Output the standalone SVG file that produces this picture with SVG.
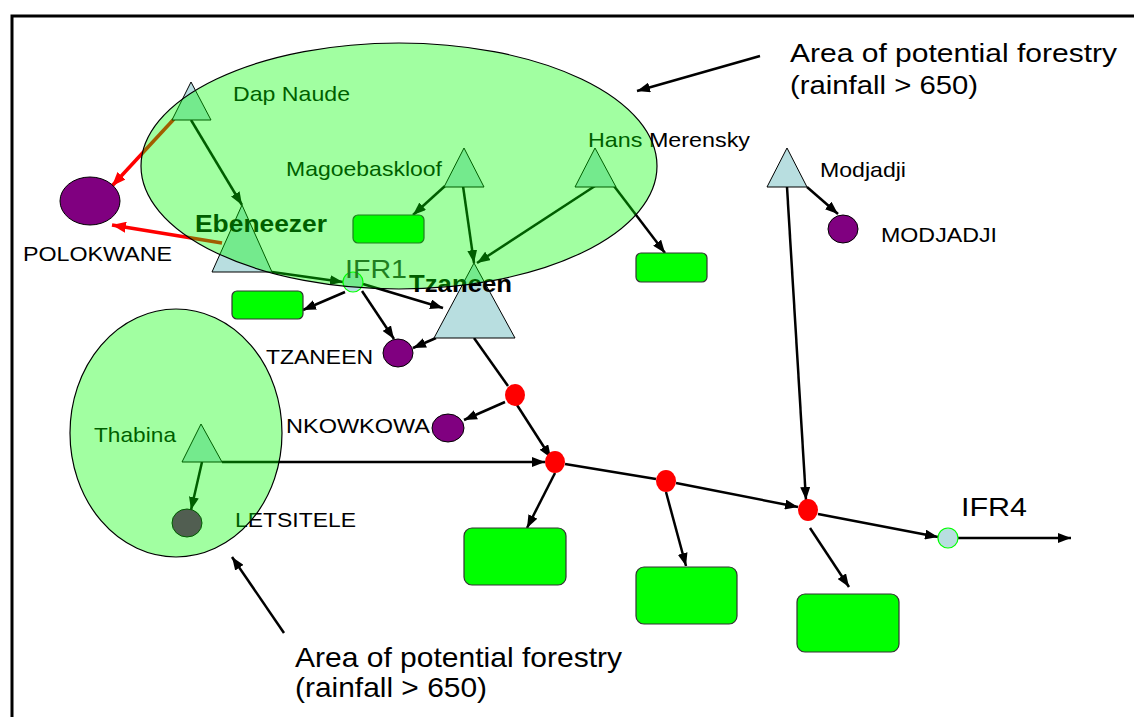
<svg xmlns="http://www.w3.org/2000/svg" width="1134" height="717" viewBox="0 0 1134 717">
  <style>
    .lbl { font-family: "Liberation Sans", Arial, sans-serif; font-size: 21px; fill: #000; }
    .big { font-family: "Liberation Sans", Arial, sans-serif; font-size: 26px; fill: #000; }
    .bold { font-weight: bold; font-size: 24px; }
    .dam { fill: #B8DEE0; stroke: #000; stroke-width: 1; }
    .town { fill: #800080; stroke: #000; stroke-width: 1; }
    .user { fill: #00FF00; stroke: #333; stroke-width: 1.2; }
    .junc { fill: #FF0000; stroke: none; }
    .ifr { fill: #B8DEE0; stroke: #00FF00; stroke-width: 1.2; }
    .flow { stroke: #000; stroke-width: 2.5; fill: none; }
    .flow-a { stroke: #000; stroke-width: 2.5; fill: none; marker-end: url(#ah); }
    .transfer { stroke: #FF0000; stroke-width: 3.5; fill: none; marker-end: url(#ahr); }
    .area { fill: #00FF00; fill-opacity: 0.37; stroke: #000; stroke-width: 1.2; }
  </style>
  <defs>
    <marker id="ah" markerUnits="userSpaceOnUse" markerWidth="13" markerHeight="10" refX="13" refY="5" orient="auto">
      <path d="M0,0 L13,5 L0,10 z" fill="#000"/>
    </marker>
    <marker id="ahr" markerUnits="userSpaceOnUse" markerWidth="14" markerHeight="11" refX="14" refY="5.5" orient="auto">
      <path d="M0,0 L14,5.5 L0,11 z" fill="#FF0000"/>
    </marker>
  </defs>

  <rect x="0" y="0" width="1134" height="717" fill="#fff"/>
  <!-- frame -->
  <path d="M12,717 L12,16 L1134,16" fill="none" stroke="#000" stroke-width="3"/>

  <!-- connectors -->
  <g id="connectors">
    <line class="transfer" x1="174" y1="119" x2="112" y2="186"/>
    <line class="transfer" x1="222" y1="243" x2="112" y2="225"/>
    <line class="flow-a" x1="191" y1="120" x2="242" y2="205"/>
    <line class="flow-a" x1="272" y1="272" x2="343" y2="282"/>
    <line class="flow-a" x1="345" y1="292" x2="303" y2="310"/>
    <line class="flow-a" x1="362" y1="291" x2="394" y2="339"/>
    <line class="flow-a" x1="363" y1="284" x2="443" y2="308"/>
    <line class="flow-a" x1="445" y1="186" x2="413" y2="215"/>
    <line class="flow-a" x1="463" y1="186" x2="474" y2="263"/>
    <line class="flow-a" x1="595" y1="186" x2="477" y2="263"/>
    <line class="flow-a" x1="614" y1="186" x2="665" y2="253"/>
    <line class="flow-a" x1="436" y1="338" x2="413" y2="348"/>
    <line class="flow" x1="474" y1="338" x2="508" y2="386"/>
    <line class="flow-a" x1="505" y1="402" x2="464" y2="420"/>
    <line class="flow-a" x1="517" y1="405" x2="551" y2="458"/>
    <line class="flow-a" x1="222" y1="462" x2="545" y2="462"/>
    <line class="flow-a" x1="202" y1="462" x2="191" y2="510"/>
    <line class="flow-a" x1="555" y1="473" x2="527" y2="528"/>
    <line class="flow" x1="565" y1="464" x2="656" y2="479"/>
    <line class="flow-a" x1="676" y1="483" x2="798" y2="507"/>
    <line class="flow-a" x1="666" y1="492" x2="686" y2="566"/>
    <line class="flow-a" x1="787" y1="187" x2="806" y2="500"/>
    <line class="flow-a" x1="807" y1="187" x2="838" y2="214"/>
    <line class="flow-a" x1="810" y1="528" x2="849" y2="587"/>
    <line class="flow-a" x1="818" y1="514" x2="938" y2="537"/>
    <line class="flow-a" x1="958" y1="538" x2="1071" y2="538"/>
    <line class="flow-a" x1="760" y1="56" x2="637" y2="91"/>
    <line class="flow-a" x1="284" y1="633" x2="232" y2="557"/>
  </g>

  <!-- dams -->
  <g id="dap-naude">
    <polygon class="dam" points="191,82 172,120 211,120"/>
    <text class="lbl" x="233" y="101" textLength="117" lengthAdjust="spacingAndGlyphs">Dap Naude</text>
  </g>
  <g id="ebeneezer">
    <polygon class="dam" points="242,205 212,272 272,272"/>
    <text class="lbl bold" x="195" y="232" textLength="132" lengthAdjust="spacingAndGlyphs">Ebeneezer</text>
  </g>
  <g id="magoebaskloof">
    <polygon class="dam" points="464,148 444,187 484,187"/>
    <text class="lbl" x="286" y="176" textLength="156" lengthAdjust="spacingAndGlyphs">Magoebaskloof</text>
  </g>
  <g id="hans-merensky">
    <polygon class="dam" points="595,148 575,187 616,187"/>
    <text class="lbl" x="588" y="147" textLength="162" lengthAdjust="spacingAndGlyphs">Hans Merensky</text>
  </g>
  <g id="tzaneen-dam">
    <polygon class="dam" points="474,263 434,338 515,338"/>
    <text class="lbl bold" x="409" y="292" textLength="103" lengthAdjust="spacingAndGlyphs">Tzaneen</text>
  </g>
  <g id="modjadji-dam">
    <polygon class="dam" points="787,148 767,187 807,187"/>
    <text class="lbl" x="820" y="177" textLength="86" lengthAdjust="spacingAndGlyphs">Modjadji</text>
  </g>
  <g id="thabina">
    <polygon class="dam" points="201,424 182,462 222,462"/>
    <text class="lbl" x="94" y="442" textLength="82" lengthAdjust="spacingAndGlyphs">Thabina</text>
  </g>

  <!-- towns -->
  <g id="polokwane">
    <ellipse class="town" cx="90" cy="201" rx="30" ry="24"/>
    <text class="lbl" x="23" y="261" textLength="149" lengthAdjust="spacingAndGlyphs">POLOKWANE</text>
  </g>
  <g id="modjadji-town">
    <ellipse class="town" cx="843" cy="229" rx="15" ry="14"/>
    <text class="lbl" x="881" y="242" textLength="116" lengthAdjust="spacingAndGlyphs">MODJADJI</text>
  </g>
  <g id="tzaneen-town">
    <ellipse class="town" cx="398" cy="353" rx="15" ry="14"/>
    <text class="lbl" x="266" y="364" textLength="107" lengthAdjust="spacingAndGlyphs">TZANEEN</text>
  </g>
  <g id="nkowkowa">
    <ellipse class="town" cx="448" cy="428" rx="16" ry="14"/>
    <text class="lbl" x="286" y="433" textLength="144" lengthAdjust="spacingAndGlyphs">NKOWKOWA</text>
  </g>
  <g id="letsitele">
    <ellipse class="town" cx="187" cy="523" rx="15" ry="14"/>
    <text class="lbl" x="235" y="527" textLength="121" lengthAdjust="spacingAndGlyphs">LETSITELE</text>
  </g>

  <!-- water users -->
  <g id="user-1"><rect class="user" x="353" y="215" width="71" height="28" rx="5"/></g>
  <g id="user-2"><rect class="user" x="232" y="291" width="71" height="28" rx="5"/></g>
  <g id="user-3"><rect class="user" x="636" y="253" width="71" height="29" rx="5"/></g>
  <g id="user-4"><rect class="user" x="464" y="528" width="102" height="57" rx="8"/></g>
  <g id="user-5"><rect class="user" x="636" y="567" width="101" height="57" rx="8"/></g>
  <g id="user-6"><rect class="user" x="797" y="594" width="102" height="58" rx="8"/></g>

  <!-- river junctions -->
  <g id="junction-1"><ellipse class="junc" cx="515" cy="395" rx="10" ry="11"/></g>
  <g id="junction-2"><ellipse class="junc" cx="555" cy="462" rx="10" ry="11"/></g>
  <g id="junction-3"><ellipse class="junc" cx="666" cy="481" rx="10" ry="11"/></g>
  <g id="junction-4"><ellipse class="junc" cx="808" cy="510" rx="10" ry="11"/></g>

  <!-- IFR sites -->
  <g id="ifr1">
    <ellipse class="ifr" cx="353" cy="282" rx="10" ry="10"/>
    <text class="lbl" x="345" y="278" style="font-size:25px;fill:#333" textLength="62" lengthAdjust="spacingAndGlyphs">IFR1</text>
  </g>
  <g id="ifr4">
    <ellipse class="ifr" cx="948" cy="538" rx="10" ry="10"/>
    <text class="lbl" x="961" y="516" style="font-size:25px" textLength="66" lengthAdjust="spacingAndGlyphs">IFR4</text>
  </g>

  <!-- forestry areas (translucent overlay) -->
  <g id="forestry-north">
    <ellipse class="area" cx="399" cy="166" rx="258" ry="123"/>
  </g>
  <g id="forestry-south">
    <ellipse class="area" cx="176" cy="433" rx="106" ry="124"/>
  </g>

  <!-- area notes -->
  <g id="note-north">
    <text class="big" x="790" y="62" textLength="327" lengthAdjust="spacingAndGlyphs">Area of potential forestry</text>
    <text class="big" x="790" y="94" textLength="188" lengthAdjust="spacingAndGlyphs">(rainfall &gt; 650)</text>
  </g>
  <g id="note-south">
    <text class="big" x="295" y="667" style="font-size:28px" textLength="327" lengthAdjust="spacingAndGlyphs">Area of potential forestry</text>
    <text class="big" x="295" y="697" style="font-size:28px" textLength="192" lengthAdjust="spacingAndGlyphs">(rainfall &gt; 650)</text>
  </g>
</svg>
